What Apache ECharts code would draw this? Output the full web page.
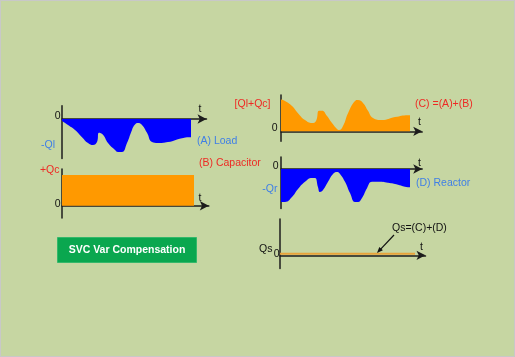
<!DOCTYPE html>
<html>
<head>
<meta charset="utf-8">
<script src="https://cdn.jsdelivr.net/npm/echarts@6/dist/echarts.min.js"></script>
<style>
html,body{margin:0;padding:0;background:#c6d6a2;}
#chart{width:515px;height:357px;}
</style>
</head>
<body>
<div id="chart"></div>
<script>
// (A) Load reactive power (negative, p.u.)
var loadT = [0, 0.6, 1.3, 2.0, 2.6, 3.1, 3.5, 3.7, 4.1, 4.6, 5.3, 5.6, 6.0, 6.5, 7.0, 7.3, 7.6, 8.0, 8.5, 9.0, 9.6, 10.6, 12.0, 12.8, 12.9];
var loadQ = [-0.06, -0.18, -0.33, -0.55, -0.73, -0.79, -0.70, -0.42, -0.48, -0.73, -0.94, -1.0, -1.0, -0.73, -0.33, -0.17, -0.12, -0.18, -0.42, -0.70, -0.73, -0.70, -0.58, -0.55, -0.55];
// (B) Capacitor (constant)
var capT = [0, 13.2];
var capQ = [1.0, 1.0];
// (C) = (A) + (B)
var sumT = [0, 0.4, 1.1, 1.7, 2.4, 3.1, 3.5, 3.8, 4.1, 4.6, 5.1, 5.6, 5.8, 6.2, 6.7, 7.4, 7.7, 8.2, 8.7, 9.2, 10.1, 11.4, 12.7, 12.9];
var sumQ = [0.96, 0.92, 0.77, 0.55, 0.34, 0.25, 0.31, 0.62, 0.62, 0.46, 0.25, 0.07, 0.04, 0.16, 0.55, 0.92, 0.95, 0.86, 0.62, 0.40, 0.34, 0.43, 0.49, 0.49];
// (D) Reactor
var reacT = [0, 0.4, 1.1, 1.7, 2.4, 3.1, 3.4, 3.7, 3.9, 4.2, 4.7, 5.2, 5.6, 5.9, 6.4, 6.9, 7.4, 7.7, 8.1, 8.6, 9.1, 9.7, 10.7, 11.7, 12.7, 12.9];
var reacQ = [-1.0, -1.0, -0.85, -0.61, -0.39, -0.27, -0.27, -0.55, -0.70, -0.64, -0.39, -0.15, -0.09, -0.15, -0.39, -0.73, -1.0, -1.0, -0.88, -0.58, -0.39, -0.39, -0.42, -0.48, -0.55, -0.55];
// Qs = (C) + (D)
var sysT = [0, 13.5];
var sysQ = [0.05, 0.05];

var labels = {
  zero: '0', t: 't',
  a: '(A) Load', aY: '-Ql',
  b: '(B) Capacitor', bY: '+Qc',
  c: '(C) =(A)+(B)', cY: '[Ql+Qc]',
  d: '(D) Reactor', dY: '-Qr',
  e: 'Qs=(C)+(D)', eY: 'Qs',
  button: 'SVC Var Compensation'
};

function zip(t, q) { return t.map(function (v, i) { return [v, q[i]]; }); }

var BLUE = '#0000ff', ORANGE = '#ff9900', AX = '#1c1c1c';
var RED = '#ee2a24', LBLUE = '#3f7fe6';
var FONT = '10.5px "Liberation Sans", Arial, sans-serif';

// panel geometry: [left, top, width, height, xMax, yMin, yMax]
var panels = [
  [62, 105.8, 144.5, 52.8, 14.45, -1.2, 0.4],
  [62, 168.9, 146.8, 49.1, 14.68, -0.4, 1.2],
  [281, 95.0, 141.2, 46.2, 14.12, -0.3, 1.1],
  [281, 157.1, 141.2, 51.5, 14.12, -1.2, 0.36],
  [280, 219.0, 145.5, 49.5, 14.55, -0.4, 1.1]
];

var grids = [], xAxes = [], yAxes = [];
panels.forEach(function (p, i) {
  grids.push({ left: p[0], top: p[1], width: p[2], height: p[3] });
  xAxes.push({
    type: 'value', gridIndex: i, min: 0, max: p[4],
    axisLine: { show: true, onZero: true, symbol: ['none', 'arrow'], symbolSize: [7, 9], lineStyle: { color: AX, width: 1.5 } },
    axisTick: { show: false }, axisLabel: { show: false }, splitLine: { show: false }
  });
  yAxes.push({
    type: 'value', gridIndex: i, min: p[5], max: p[6],
    axisLine: { show: true, onZero: false, lineStyle: { color: AX, width: 1.5 } },
    axisTick: { show: false }, axisLabel: { show: false }, splitLine: { show: false }
  });
});

function areaSeries(idx, t, q, color, smooth) {
  return {
    type: 'line', xAxisIndex: idx, yAxisIndex: idx, data: zip(t, q),
    smooth: smooth, showSymbol: false, silent: true, z: 1,
    lineStyle: { width: 0, color: color },
    areaStyle: { color: color, opacity: 1 }
  };
}

var series = [
  areaSeries(0, loadT, loadQ, BLUE, 0.5),
  areaSeries(1, capT, capQ, ORANGE, false),
  areaSeries(2, sumT, sumQ, ORANGE, 0.5),
  areaSeries(3, reacT, reacQ, BLUE, 0.5),
  {
    type: 'line', xAxisIndex: 4, yAxisIndex: 4, data: zip(sysT, sysQ),
    showSymbol: false, silent: true, z: 3,
    lineStyle: { width: 2, color: '#e8a33a' }
  }
];

function txt(s, x, y, color, align, font) {
  return {
    type: 'text', x: x, y: y, z: 10, silent: true,
    style: { text: s, fill: color, font: font || FONT, align: align || 'left', verticalAlign: 'middle', textAlign: align || 'left', textVerticalAlign: 'middle' }
  };
}

var graphic = [
  { type: 'rect', shape: { x: 0.5, y: 0.5, width: 514, height: 356 }, style: { fill: null, stroke: '#c8c8c8', lineWidth: 1 }, silent: true },
  // panel A
  txt(labels.zero, 60.5, 116, '#111', 'right'),
  txt(labels.aY, 48, 145, LBLUE, 'center'),
  txt(labels.t, 200, 109, '#111', 'center'),
  txt(labels.a, 197, 141.5, LBLUE, 'left'),
  // panel B
  txt(labels.b, 199, 163.5, RED, 'left'),
  txt(labels.bY, 59.5, 170.5, RED, 'right'),
  txt(labels.zero, 60.5, 204.5, '#111', 'right'),
  txt(labels.t, 200, 198.5, '#111', 'center'),
  // panel C
  txt(labels.cY, 270.5, 104.5, RED, 'right'),
  txt(labels.zero, 277.5, 128, '#111', 'right'),
  txt(labels.t, 419.5, 122.5, '#111', 'center'),
  txt(labels.c, 415, 104.5, RED, 'left'),
  // panel D
  txt(labels.zero, 278.5, 166.5, '#111', 'right'),
  txt(labels.dY, 277.5, 189, LBLUE, 'right'),
  txt(labels.t, 419.5, 163.5, '#111', 'center'),
  txt(labels.d, 416, 183.5, LBLUE, 'left'),
  // panel E
  txt(labels.eY, 272.5, 249, '#111', 'right'),
  txt(labels.zero, 279.5, 254, '#111', 'right'),
  txt(labels.t, 421.5, 247.5, '#111', 'center'),
  txt(labels.e, 392, 228, '#111', 'left'),
  { type: 'line', shape: { x1: 394, y1: 235, x2: 380, y2: 249.8 }, style: { stroke: '#111', lineWidth: 1.2 }, silent: true, z: 10 },
  { type: 'polygon', shape: { points: [[377, 253], [382.9, 250.3], [379.3, 246.9]] }, style: { fill: '#111' }, silent: true, z: 10 },
  // button
  { type: 'rect', shape: { x: 57.5, y: 237.5, width: 139, height: 25 }, style: { fill: '#0aa74f', stroke: '#34b86a', lineWidth: 1 }, silent: true, z: 10 },
  txt(labels.button, 127, 250.5, '#ffffff', 'center', 'bold 10.5px "Liberation Sans", Arial, sans-serif')
];

var chart = echarts.init(document.getElementById('chart'), null, { renderer: 'canvas' });
chart.setOption({
  animation: false,
  backgroundColor: '#c6d6a2',
  grid: grids,
  xAxis: xAxes,
  yAxis: yAxes,
  series: series,
  graphic: graphic
});
</script>
</body>
</html>
